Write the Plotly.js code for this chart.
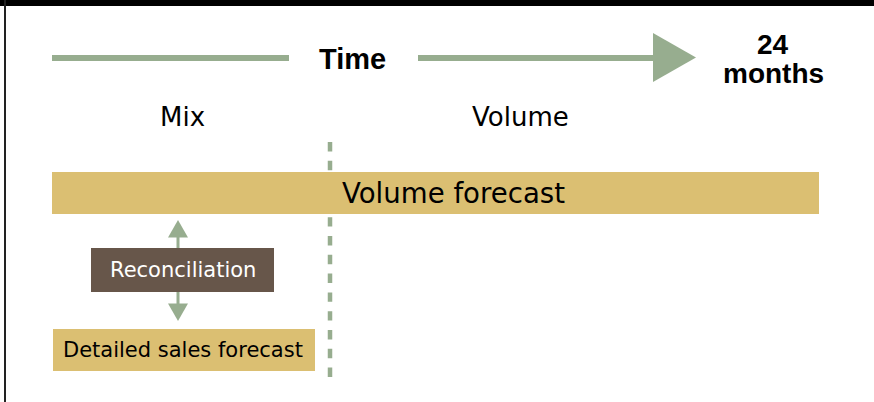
<!DOCTYPE html>
<html>
<head>
<meta charset="utf-8">
<script src="https://cdn.plot.ly/plotly-3.0.1.min.js"></script>
<style>html,body{margin:0;padding:0;background:#fff;}#chart{width:874px;height:402px;}</style>
</head>
<body>
<div id="chart"></div>
<script>
// ---- content (labels) ----
const timeLabel = "Time";
const horizonLabels = ["24", "months"];
const phaseLabels = ["Mix", "Volume"];
const forecastLabels = ["Volume forecast", "Detailed sales forecast"];
const processLabel = "Reconciliation";

// ---- geometry (diagram coordinates, px-like units) ----
const W = 874, H = 402;
const green = "#97ad8f", gold = "#dbbf72", brown = "#67564a";
const regular = "DejaVu Sans, sans-serif";
const bold = "Liberation Sans, Arial, sans-serif";

const shapes = [
  // top band and left border
  {type:"rect", x0:0, x1:W, y0:0, y1:6, fillcolor:"#000", line:{width:0}},
  {type:"line", x0:5, x1:5, y0:0, y1:H, line:{color:"#222", width:2}},
  // time arrow
  {type:"rect", x0:52, x1:289, y0:55, y1:61, fillcolor:green, line:{width:0}},
  {type:"rect", x0:418, x1:655, y0:55, y1:61, fillcolor:green, line:{width:0}},
  {type:"path", path:"M653,33 L696,57.5 L653,82 Z", fillcolor:green, line:{width:0}},
  // phase divider
  {type:"line", x0:330, x1:330, y0:142, y1:377, line:{color:green, width:4.5, dash:"9.4px,9.4px"}},
  // volume forecast bar
  {type:"rect", x0:52, x1:819, y0:172, y1:214, fillcolor:gold, line:{width:0}},
  // reconciliation arrows
  {type:"line", x0:178, x1:178, y0:236, y1:248, line:{color:green, width:3}},
  {type:"path", path:"M168,237.5 L178,220 L188,237.5 Z", fillcolor:green, line:{width:0}},
  {type:"line", x0:178, x1:178, y0:292, y1:305, line:{color:green, width:3}},
  {type:"path", path:"M168,303.5 L178,321 L188,303.5 Z", fillcolor:green, line:{width:0}},
  // boxes
  {type:"rect", x0:91, x1:274, y0:248, y1:292, fillcolor:brown, line:{width:0}},
  {type:"rect", x0:53, x1:315, y0:329, y1:371, fillcolor:gold, line:{width:0}}
];

function ann(text, x, y, font) {
  return {text:text, x:x, y:y, xref:"x", yref:"y", showarrow:false,
          xanchor:"center", yanchor:"middle", font:font};
}

const annotations = [
  ann(timeLabel, 352.5, 59, {family:bold, size:29, color:"#000", weight:"bold"}),
  ann(horizonLabels[0], 773, 44.5, {family:bold, size:28, color:"#000", weight:"bold"}),
  ann(horizonLabels[1], 773, 73, {family:bold, size:28, color:"#000", weight:"bold"}),
  ann(phaseLabels[0], 182.5, 116.5, {family:regular, size:26, color:"#000"}),
  ann(phaseLabels[1], 520, 116.5, {family:regular, size:26, color:"#000"}),
  ann(forecastLabels[0], 453, 193, {family:regular, size:27.6, color:"#000"}),
  ann(processLabel, 183, 269.5, {family:regular, size:21, color:"#fff"}),
  ann(forecastLabels[1], 183, 350, {family:regular, size:21, color:"#000"})
];

const layout = {
  width:W, height:H,
  margin:{l:0, r:0, t:0, b:0, pad:0},
  paper_bgcolor:"#fff", plot_bgcolor:"#fff",
  showlegend:false,
  xaxis:{range:[0, W], visible:false, fixedrange:true},
  yaxis:{range:[H, 0], visible:false, fixedrange:true},
  shapes:shapes,
  annotations:annotations
};

Plotly.newPlot("chart", [{x:[], y:[], type:"scatter", mode:"markers", hoverinfo:"skip"}], layout, {staticPlot:true, displayModeBar:false});
</script>
</body>
</html>
